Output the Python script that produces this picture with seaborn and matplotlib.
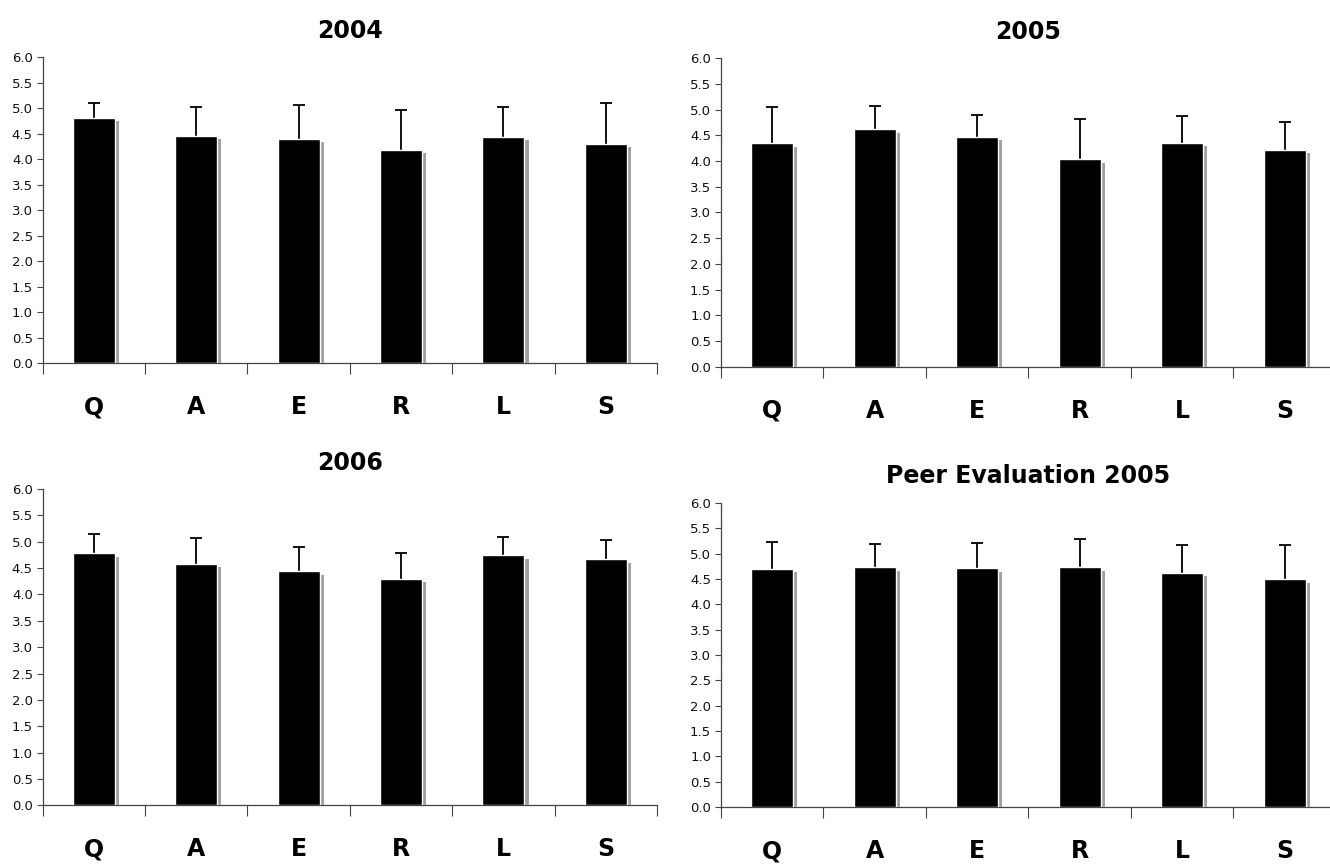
import numpy as np
import pandas as pd
import matplotlib
matplotlib.use("Agg")
import matplotlib.pyplot as plt
import matplotlib.patheffects as pe
import seaborn as sns

# criteria on the x axis
categories = ["Q", "A", "E", "R", "L", "S"]

# panel titles
titles = ["2004", "2005", "2006", "Peer Evaluation 2005"]

# mean scores
means_2004 = [4.81, 4.46, 4.40, 4.19, 4.44, 4.30]
means_2005 = [4.34, 4.62, 4.47, 4.03, 4.35, 4.22]
means_2006 = [4.78, 4.58, 4.44, 4.30, 4.74, 4.67]
means_peer = [4.70, 4.73, 4.71, 4.73, 4.62, 4.49]

# upper error bar lengths (standard deviation)
sd_2004 = [0.29, 0.57, 0.66, 0.78, 0.58, 0.80]
sd_2005 = [0.71, 0.44, 0.43, 0.79, 0.52, 0.54]
sd_2006 = [0.36, 0.49, 0.46, 0.48, 0.35, 0.36]
sd_peer = [0.52, 0.46, 0.50, 0.55, 0.54, 0.68]

yticks = np.arange(0, 6.01, 0.5)

sns.set_style("white")
plt.rcParams['font.family'] = ['DejaVu Sans']

heavy = dict(family=["DejaVu Sans"], fontweight="bold", color="black")

fig = plt.figure(figsize=(13.3, 8.67), dpi=100)

# axes rectangles [left, bottom, width, height] in figure fractions
rects = [
    [0.032, 0.581, 0.462, 0.353],
    [0.542, 0.577, 0.4624, 0.356],
    [0.032, 0.071, 0.462, 0.365],
    [0.542, 0.069, 0.4624, 0.351],
]

panels = [
    (means_2004, sd_2004),
    (means_2005, sd_2005),
    (means_2006, sd_2006),
    (means_peer, sd_peer),
]

shadow = [pe.SimplePatchShadow(offset=(3, -2.5), shadow_rgbFace="#a0a0a0", alpha=1.0),
          pe.Normal()]

for rect, title, (means, sds) in zip(rects, titles, panels):
    ax = fig.add_axes(rect)
    df = pd.DataFrame({"crit": categories, "score": means, "sd": sds})
    sns.barplot(data=df, x="crit", y="score", color="black", width=0.41,
                saturation=1, ax=ax, zorder=3)
    for p in ax.patches:
        p.set_path_effects(shadow)
    centers = [p.get_x() + p.get_width() / 2 for p in ax.patches]
    _, caps, _ = ax.errorbar(centers, df["score"], yerr=[np.zeros(len(df)), df["sd"]],
                             fmt="none", ecolor="black", elinewidth=1.3, capsize=4,
                             capthick=1.3, zorder=2)
    # only keep the upper cap
    for cap in caps:
        if np.allclose(cap.get_ydata(), df["score"]):
            cap.set_visible(False)

    ax.set_xlim(-0.5, len(categories) - 0.5)
    ax.set_ylim(0, 6)
    ax.set_yticks(yticks)
    ax.set_yticklabels([f"{v:.1f}" for v in yticks], fontsize=9.5, color="#111111",
                       family=["DejaVu Sans"])
    ax.tick_params(axis="y", direction="out", length=4, width=0.8, color="#444444", pad=3, left=True)

    # boundary ticks between categories, labels centred in each slot
    ax.set_xticks(np.arange(-0.5, len(categories), 1.0))
    ax.set_xticklabels([])
    ax.set_xticks(np.arange(len(categories)), minor=True)
    ax.set_xticklabels(categories, minor=True, fontsize=17, **heavy)
    ax.tick_params(axis="x", which="major", direction="out", length=8, width=0.8,
                   color="#444444", bottom=True)
    ax.tick_params(axis="x", which="minor", length=0, pad=23)

    ax.set_xlabel("")
    ax.set_ylabel("")
    for side in ["top", "right"]:
        ax.spines[side].set_visible(False)
    for side in ["left", "bottom"]:
        ax.spines[side].set_color("#444444")
        ax.spines[side].set_linewidth(0.9)
    ax.set_title(title, fontsize=17, pad=14, **heavy)

fig.savefig("out.png", dpi=100)
